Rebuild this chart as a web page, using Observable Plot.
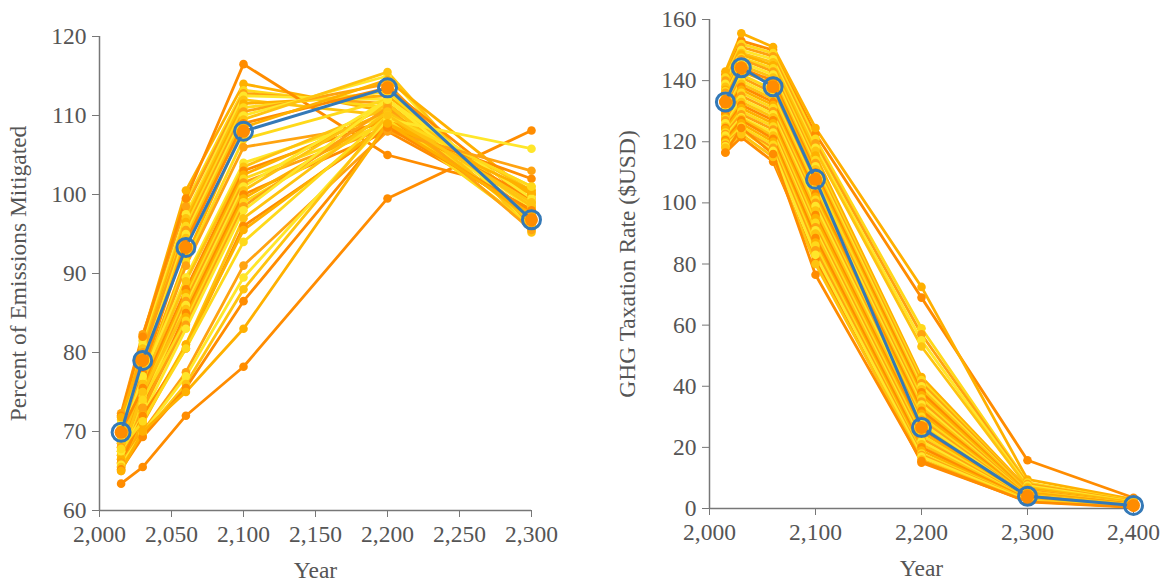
<!DOCTYPE html>
<html>
<head>
<meta charset="utf-8">
<script src="https://cdn.jsdelivr.net/npm/d3@7"></script>
<script src="https://cdn.jsdelivr.net/npm/@observablehq/plot@0.6"></script>
<style>
  html, body { margin: 0; padding: 0; background: #fff; }
  #wrap { display: flex; flex-direction: row; width: 1166px; height: 585px; }
  svg { overflow: visible; }
</style>
</head>
<body>
<div id="wrap"></div>
<script>
// ---------- DATA ----------
const leftYears = [2015, 2030, 2060, 2100, 2200, 2300];
const leftXTicks = [2000, 2050, 2100, 2150, 2200, 2250, 2300];
const leftYTicks = [60, 70, 80, 90, 100, 110, 120];

// each row: values at leftYears
const leftSeries = [
  [63.4, 65.5, 72.0, 78.2, 99.5, 108.1],
  [72.0, 82.0, 100.5, 114.0, 110.5, 97.0],
  [71.5, 81.5, 99.0, 113.2, 111.0, 96.5],
  [72.3, 82.3, 98.5, 112.8, 111.5, 97.5],
  [71.0, 81.0, 97.5, 112.5, 112.0, 98.0],
  [70.5, 80.5, 97.0, 112.0, 110.0, 96.0],
  [72.0, 82.0, 99.5, 116.5, 105.0, 100.2],
  [71.8, 80.0, 96.5, 111.5, 112.5, 98.5],
  [70.0, 79.5, 96.0, 111.0, 113.0, 97.0],
  [69.5, 80.0, 95.5, 110.5, 114.0, 96.0],
  [70.8, 78.5, 95.0, 110.0, 115.0, 95.5],
  [69.0, 78.0, 94.5, 109.5, 115.5, 95.2],
  [68.5, 77.5, 94.0, 109.0, 113.5, 99.0],
  [68.0, 77.0, 92.0, 108.5, 114.5, 100.0],
  [67.5, 76.5, 91.5, 107.0, 112.0, 98.5],
  [67.0, 76.0, 91.0, 106.0, 109.0, 97.5],
  [69.0, 77.0, 89.5, 104.0, 110.0, 101.0],
  [68.5, 76.0, 89.0, 103.5, 111.0, 100.5],
  [70.0, 75.5, 88.0, 103.0, 109.5, 99.5],
  [67.5, 75.0, 87.5, 102.5, 110.5, 100.0],
  [66.5, 74.5, 87.0, 102.0, 109.0, 99.0],
  [68.0, 74.0, 86.5, 101.5, 108.5, 98.0],
  [66.0, 73.5, 86.0, 101.0, 112.0, 97.0],
  [67.0, 75.0, 85.5, 100.5, 111.5, 96.5],
  [65.5, 73.0, 85.0, 100.0, 108.0, 98.0],
  [66.5, 72.5, 84.5, 99.5, 110.0, 97.0],
  [65.2, 74.0, 84.0, 99.0, 109.5, 96.0],
  [66.0, 73.0, 83.5, 98.5, 111.0, 95.5],
  [67.5, 72.0, 83.0, 98.0, 112.0, 99.5],
  [65.5, 71.5, 81.0, 97.0, 110.5, 98.5],
  [66.0, 72.0, 80.5, 96.0, 108.5, 102.0],
  [65.0, 71.0, 81.0, 95.5, 109.0, 100.5],
  [67.8, 71.3, 80.5, 94.0, 110.0, 101.0],
  [66.0, 70.0, 77.5, 91.0, 108.0, 103.0],
  [65.8, 69.8, 77.0, 89.5, 109.5, 105.8],
  [65.5, 69.5, 76.0, 88.0, 110.0, 99.0],
  [65.2, 69.3, 75.5, 86.5, 108.5, 98.0],
  [65.0, 70.0, 75.0, 83.0, 109.0, 97.5]
];
const leftHighlight = [69.9, 79.0, 93.3, 108.0, 113.5, 96.8];

const rightYears = [2015, 2030, 2060, 2100, 2200, 2300, 2400];
const rightXTicks = [2000, 2100, 2200, 2300, 2400];
const rightYTicks = [0, 20, 40, 60, 80, 100, 120, 140, 160];

const rightSeries = [
  [142, 153, 150, 122.5, 69, 15.8, 3.5],
  [143, 155.5, 151, 124.5, 72.5, 9.5, 3.0],
  [141, 152, 149, 121, 59, 8.5, 2.5],
  [140, 151, 148, 119.5, 57, 8, 2.3],
  [139, 150, 147, 118, 55, 7.5, 2.2],
  [138, 149, 146, 117, 53, 7, 2.0],
  [116.5, 121.5, 113.5, 81.5, 15, 2.4, 0.5],
  [137, 148.5, 145, 115.5, 43, 6.5, 1.8],
  [136.5, 147.5, 144, 114, 42, 6, 1.7],
  [136, 147, 143, 113, 41, 6, 1.6],
  [135, 146, 142, 112, 40, 5.5, 1.5],
  [134.5, 145, 141, 111, 39, 5.5, 1.5],
  [134, 144, 140, 110, 38, 5, 1.4],
  [133.5, 143, 139, 109, 37, 5, 1.3],
  [132, 142, 137, 108, 36, 4.5, 1.2],
  [131, 141, 136, 106, 35, 4.5, 1.2],
  [130, 140, 135, 105, 34, 4.3, 1.1],
  [129.5, 139, 134, 104, 33, 4.2, 1.1],
  [129, 138, 133, 103, 32, 4, 1.0],
  [128, 137, 132, 102, 31, 4, 1.0],
  [127.5, 136, 131, 101, 30, 3.8, 1.0],
  [127, 135, 130, 100, 29, 3.7, 0.9],
  [126, 134, 129, 99, 28, 3.6, 0.9],
  [125, 133, 128, 97.5, 27, 3.5, 0.9],
  [124.5, 132, 127, 96, 26, 3.4, 0.8],
  [124, 131, 126, 95, 25, 3.3, 0.8],
  [123, 130, 125, 93.5, 24, 3.2, 0.8],
  [122.5, 129, 124, 92, 23, 3.1, 0.7],
  [122, 128, 123, 91, 22, 3.0, 0.7],
  [121, 127.5, 122, 90, 21, 3.0, 0.7],
  [120.5, 127, 121, 88.5, 20, 2.9, 0.6],
  [120, 126, 120, 87, 19, 2.8, 0.6],
  [119.5, 125, 119, 86, 18, 2.7, 0.6],
  [119, 124, 118, 84.5, 17.5, 2.6, 0.5],
  [118.5, 123.5, 117, 83, 17, 2.5, 0.5],
  [118, 122.5, 115, 80, 16, 2.3, 0.5],
  [116.5, 124.5, 116, 76.5, 15.5, 2.2, 0.4]
];
const rightHighlight = [133, 144.2, 138, 107.7, 26.5, 4, 1];

const leftYLabel = "Percent of Emissions Mitigated";
const rightYLabel = "GHG Taxation Rate ($USD)";
const xLabel = "Year";

// ---------- STYLE ----------
const palette = ["#ff8c00", "#ffb000", "#ffd91a", "#ffa310", "#ffe62a", "#ffc30f"];
const blue = "#3479b7";
const FONT = "'Liberation Serif', 'DejaVu Serif', serif";
const FS = 23.5;
const textColor = "#555";
const axisColor = "#777";

function toRows(years, series) {
  const rows = [];
  series.forEach((vals, i) => vals.forEach((v, j) => rows.push({series: i, year: years[j], value: v})));
  return rows;
}
function hlRows(years, vals) {
  return vals.map((v, j) => ({year: years[j], value: v}));
}

function panel({years, series, highlight, xDomain, xTicks, yDomain, yTicks, yLabel, width, marginLeft, marginRight, marginTop, marginBottom, ylabDx}) {
  const rows = toRows(years, series);
  const hl = hlRows(years, highlight);
  const colorOf = d => palette[d.series % palette.length];
  return Plot.plot({
    width, height: 585, marginLeft, marginRight, marginTop, marginBottom,
    style: {fontFamily: FONT, fontSize: FS + "px", color: textColor, background: "white"},
    x: {domain: xDomain, label: null},
    y: {domain: yDomain, label: null},
    marks: [
      Plot.axisX({ticks: xTicks, tickFormat: d3.format(","), tickSize: 7, tickPadding: 8, stroke: axisColor, fill: textColor, fontSize: FS, label: null}),
      Plot.axisY({ticks: yTicks, tickSize: 7, tickPadding: 6, stroke: axisColor, fill: textColor, fontSize: FS, label: null}),
      Plot.ruleX([xDomain[0]], {stroke: axisColor, strokeWidth: 1.5}),
      Plot.ruleY([yDomain[0]], {stroke: axisColor, strokeWidth: 1.5}),
      Plot.lineY(rows, {x: "year", y: "value", z: "series", stroke: colorOf, strokeWidth: 2.8, strokeLinejoin: "round"}),
      Plot.dot(rows, {x: "year", y: "value", fill: colorOf, r: 4.3, stroke: "none"}),
      Plot.lineY(hl, {x: "year", y: "value", stroke: blue, strokeWidth: 3}),
      Plot.dot(hl, {x: "year", y: "value", fill: "#ff8c00", r: 6.5, stroke: "none"}),
      Plot.dot(hl, {x: "year", y: "value", fill: "none", stroke: blue, strokeWidth: 3, r: 9}),
      Plot.text([yLabel], {frameAnchor: "left", dx: ylabDx, rotate: -90, fontSize: FS, fill: textColor, textAnchor: "middle"}),
      Plot.text([xLabel], {frameAnchor: "bottom", dy: 67, fontSize: FS, fill: textColor, textAnchor: "middle"})
    ]
  });
}

const wrap = document.getElementById("wrap");
wrap.appendChild(panel({
  years: leftYears, series: leftSeries, highlight: leftHighlight,
  xDomain: [2000, 2300], xTicks: leftXTicks, yDomain: [60, 120], yTicks: leftYTicks,
  yLabel: leftYLabel, width: 580, marginLeft: 99, marginRight: 49, marginTop: 36, marginBottom: 75, ylabDx: -81
}));
wrap.appendChild(panel({
  years: rightYears, series: rightSeries, highlight: rightHighlight,
  xDomain: [2000, 2400], xTicks: rightXTicks, yDomain: [0, 160], yTicks: rightYTicks,
  yLabel: rightYLabel, width: 586, marginLeft: 129, marginRight: 33, marginTop: 19, marginBottom: 77, ylabDx: -82
}));
</script>
</body>
</html>
